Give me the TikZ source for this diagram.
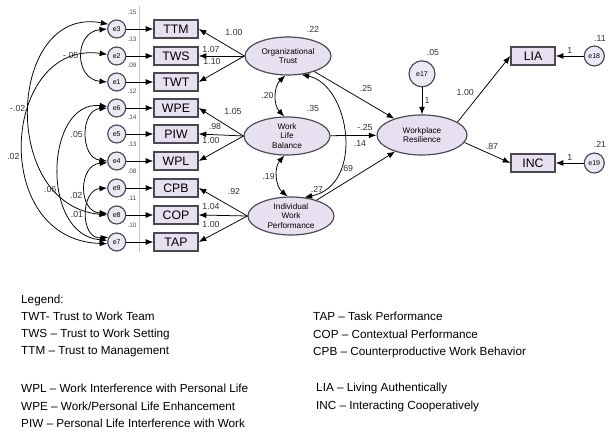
\documentclass[tikz,border=0pt]{standalone}
\usepackage{fontspec}
\setmainfont{Liberation Sans}
\usetikzlibrary{arrows.meta,shapes.geometric,positioning}
\definecolor{lav}{HTML}{E6E0F0}
\definecolor{edge}{HTML}{4C4854}
\tikzset{
	ind/.style={draw=edge, line width=1.2pt, fill=lav, minimum width=1.32cm, minimum height=0.54cm, inner sep=0pt, font=\fontsize{10.5}{10.5}\selectfont},
	err/.style={circle, draw=edge, line width=1pt, fill=lav!70, minimum size=0.54cm, inner sep=0pt, font=\fontsize{6}{6}\selectfont},
	lat/.style={ellipse, draw=edge, line width=1pt, fill=lav, minimum width=2.58cm, minimum height=1.14cm, inner sep=0pt, align=center, font=\fontsize{7}{8}\selectfont},
	lbl/.style={font=\fontsize{7.5}{7.5}\selectfont, inner sep=0pt, text=black!80},
	var/.style={font=\fontsize{5.5}{5.5}\selectfont, inner sep=0pt, text=black!70},
	leg/.style={anchor=west, inner sep=0pt, font=\fontsize{10}{10}\selectfont},
	arr/.style={-{Latex[length=6.5pt,width=5pt]}, line width=0.65pt},
	cov/.style={{Latex[length=6.5pt,width=5pt]}-{Latex[length=6.5pt,width=5pt]}, line width=0.65pt}
}
\begin{document}
\begin{tikzpicture}[x=0.03cm, y=-0.03cm]
	\useasboundingbox (0,0) rectangle (608,432);
	\draw[gray!45] (139,6) -- (139,252);

	\node (ot) [lat] at (288,56) {Organizational\\Trust};
	\node (wlb) [lat] at (287,136) {Work\\Life\\Balance};
	\node (iwp) [lat] at (291,216) {Individual\\Work\\Performance};
	\node (wr) [lat, minimum width=2.7cm, minimum height=1.2cm] at (422,135) {Workplace\\Resilience};

	\node (ttm) [ind] at (176,29) {TTM};
	\node (tws) [ind] at (176,56) {TWS};
	\node (twt) [ind] at (176,82) {TWT};
	\node (wpe) [ind] at (176,108) {WPE};
	\node (piw) [ind] at (176,134) {PIW};
	\node (wpl) [ind] at (176,161) {WPL};
	\node (cpb) [ind] at (176,188) {CPB};
	\node (cop) [ind] at (176,215) {COP};
	\node (tap) [ind] at (176,242) {TAP};
	\node (lia) [ind] at (533,56) {LIA};
	\node (inc) [ind] at (533,163) {INC};

	\node (e3) [err, left=0.81cm of ttm] {e3};
	\node (e2) [err, left=0.81cm of tws] {e2};
	\node (e1) [err, left=0.81cm of twt] {e1};
	\node (e6) [err, left=0.81cm of wpe] {e6};
	\node (e5) [err, left=0.81cm of piw] {e5};
	\node (e4) [err, left=0.81cm of wpl] {e4};
	\node (e9) [err, left=0.81cm of cpb] {e9};
	\node (e8) [err, left=0.81cm of cop] {e8};
	\node (e7) [err, left=0.81cm of tap] {e7};
	\node (e17) [err, minimum size=0.78cm, above=0.81cm of wr] {e17};
	\node (e18) [err, minimum size=0.6cm, right=0.84cm of lia] {e18};
	\node (e19) [err, minimum size=0.6cm, right=0.84cm of inc] {e19};

	\node (v3) [var] at (132,12) {.15};
	\node (v2) [var] at (132,39) {.13};
	\node (v1) [var] at (132,65) {.09};
	\node (v6) [var] at (132,91) {.12};
	\node (v5) [var] at (132,117) {.14};
	\node (v4) [var] at (132,144) {.13};
	\node (v9) [var] at (132,171) {.08};
	\node (v8) [var] at (132,198) {.11};
	\node (v7) [var] at (132,225) {.10};
	\node (vot) [lbl] at (313,29) {.22};
	\node (vwlb) [lbl] at (313,108) {.35};
	\node (viwp) [lbl] at (317,189) {.27};
	\node (v17) [lbl] at (433,52) {.05};
	\node (v18) [lbl] at (600,38) {.11};
	\node (v19) [lbl] at (600,144) {.21};

	\draw[arr] (e3) -- (ttm);
	\draw[arr] (e2) -- (tws);
	\draw[arr] (e1) -- (twt);
	\draw[arr] (e6) -- (wpe);
	\draw[arr] (e5) -- (piw);
	\draw[arr] (e4) -- (wpl);
	\draw[arr] (e9) -- (cpb);
	\draw[arr] (e8) -- (cop);
	\draw[arr] (e7) -- (tap);

	\draw[arr] (ot.west) -- (ttm.east);
	\draw[arr] (ot.west) -- (tws.east);
	\draw[arr] (ot.west) -- (twt.east);
	\draw[arr] (wlb.west) -- (wpe.east);
	\draw[arr] (wlb.west) -- (piw.east);
	\draw[arr] (wlb.west) -- (wpl.east);
	\draw[arr] (iwp.west) -- (cpb.east);
	\draw[arr] (iwp.west) -- (cop.east);
	\draw[arr] (iwp.west) -- (tap.east);
	\node (l1) [lbl] at (234,32) {1.00};
	\node (l2) [lbl] at (211,49) {1.07};
	\node (l3) [lbl] at (212,61) {1.10};
	\node (l4) [lbl] at (233,111) {1.05};
	\node (l5) [lbl] at (215,126) {.98};
	\node (l6) [lbl] at (211,140) {1.00};
	\node (l7) [lbl] at (234,191) {.92};
	\node (l8) [lbl] at (211,206) {1.04};
	\node (l9) [lbl] at (211,224) {1.00};

	\draw[cov] (ot.-98) to[bend right=45] node[lbl, left=2pt] {.20} (wlb.98);
	\draw[cov] (wlb.-98) to[bend right=45] node[lbl, left=2pt] {.19} (iwp.100);
	\draw[cov] (ot.-54) .. controls (350,85) and (365,185) .. (iwp.54);
	\node (l10) [lbl] at (360,143) {.14};

	\draw[arr] (ot) -- (wr);
	\draw[arr] (wlb) -- (wr);
	\draw[arr] (iwp) -- (wr);
	\draw[arr] (e17) -- node[lbl, right=2pt] {1} (wr);
	\node (l11) [lbl] at (366,88) {.25};
	\node (l12) [lbl] at (365,127) {-.25};
	\node (l13) [lbl] at (347,168) {.69};

	\draw[arr] (wr.20) -- node[lbl, pos=.45, left=6pt] {1.00} (lia.west);
	\draw[arr] (wr.-10) -- node[lbl, pos=.6, above=4pt] {.87} (inc.west);
	\draw[arr] (e18) -- node[lbl, above=2pt] {1} (lia);
	\draw[arr] (e19) -- node[lbl, above=2pt] {1} (inc);

	\draw[cov] (e3.west) .. controls (74,32) and (74,79) .. node[lbl, left=3pt] {-.05} (e1.west);
	\draw[cov] (e3.150) .. controls (8,5) and (-2,205) .. node[lbl, left=3pt] {-.02} (e8.west);
	\draw[cov] (e2.170) .. controls (2,40) and (-12,240) .. node[lbl, pos=.55, left=3pt] {.02} (e7.190);
	\draw[cov] (e6.west) .. controls (80,110) and (80,158) .. node[lbl, left=3pt] {.05} (e4.west);
	\draw[cov] (e6.170) .. controls (45,100) and (40,235) .. node[lbl, pos=.6, left=3pt] {.06} (e7.170);
	\draw[cov] (e4.190) .. controls (78,165) and (78,212) .. node[lbl, pos=.6, left=3pt] {.02} (e8.170);
	\draw[cov] (e9.west) .. controls (80,190) and (80,240) .. node[lbl, left=3pt] {.01} (e7.150);

	\node (g0) [leg] at (21,300) {Legend:};
	\node (g1) [leg] at (21,316) {TWT- Trust to Work Team};
	\node (g2) [leg] at (21,334) {TWS -- Trust to Work Setting};
	\node (g3) [leg] at (21,352) {TTM -- Trust to Management};
	\node (g4) [leg] at (21,388) {WPL -- Work Interference with Personal Life};
	\node (g5) [leg] at (21,406) {WPE -- Work/Personal Life Enhancement};
	\node (g6) [leg] at (21,423) {PIW -- Personal Life Interference with Work};
	\node (g7) [leg] at (313,316) {TAP -- Task Performance};
	\node (g8) [leg] at (313,334) {COP -- Contextual Performance};
	\node (g9) [leg] at (313,352) {CPB -- Counterproductive Work Behavior};
	\node (g10) [leg] at (316,388) {LIA -- Living Authentically};
	\node (g11) [leg] at (316,406) {INC -- Interacting Cooperatively};
\end{tikzpicture}
\end{document}
